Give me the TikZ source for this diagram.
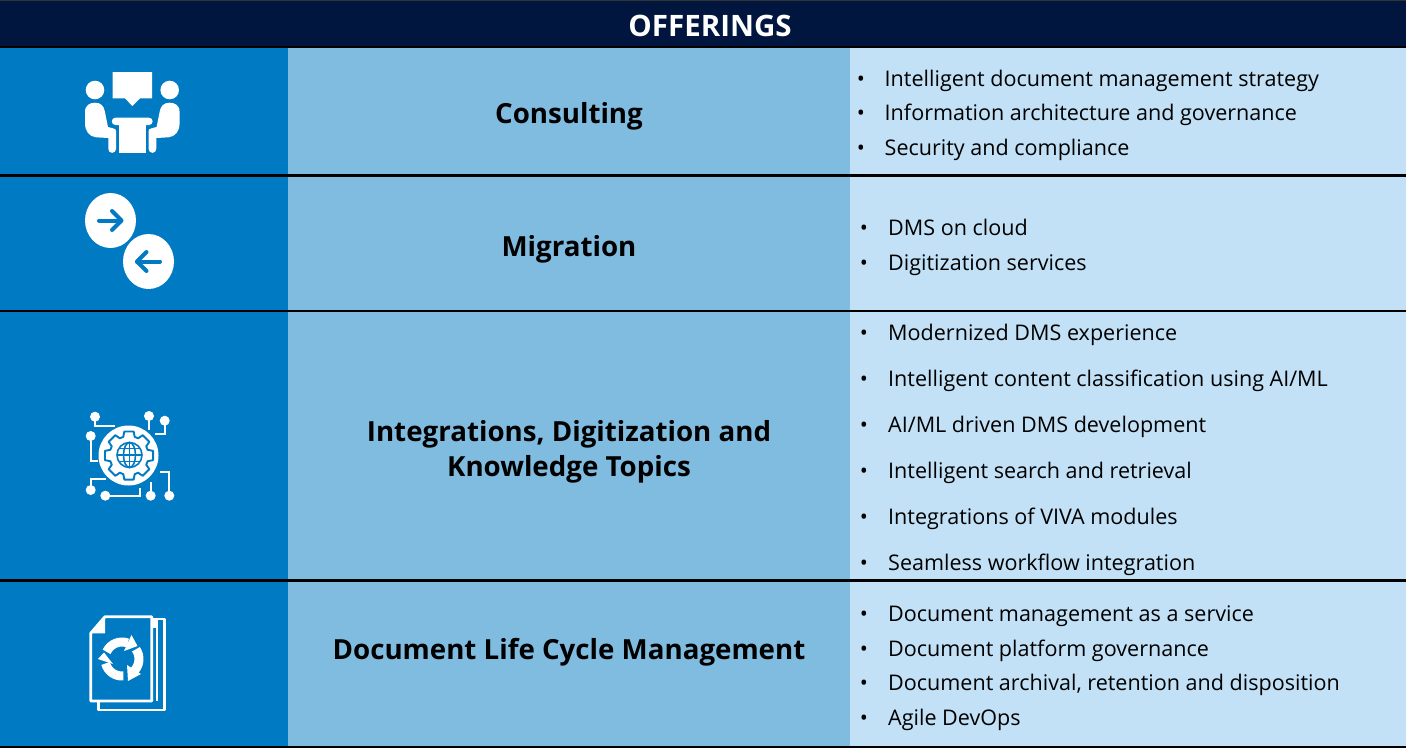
\documentclass[tikz,border=0pt]{standalone}
\usepackage{fontspec}
\setmainfont{Open Sans}
\definecolor{navy}{HTML}{00163F}
\definecolor{cola}{HTML}{007AC3}
\definecolor{colb}{HTML}{7FBCE0}
\definecolor{colc}{HTML}{C2E1F6}
\tikzset{x=1pt,y=-1pt,
  rule/.style={line width=2.5pt,black},
  head/.style={font=\fontsize{29.5}{30}\selectfont\bfseries,white},
  title/.style={font=\fontsize{27.7}{35}\selectfont\bfseries,black,align=center},
  item/.style={font=\fontsize{21.55}{26}\selectfont,black,anchor=base west,inner sep=0},
  dot/.style={font=\fontsize{21.5}{26}\selectfont,black,anchor=base,inner sep=0},
  icon/.style={fill=white,draw=none},
  iline/.style={draw=white,line width=2pt,fill=none},
  bline/.style={draw=cola,line width=4pt,line cap=round,line join=round,fill=none},
  gline/.style={draw=cola,line width=1.6pt,fill=none}}
\begin{document}
\begin{tikzpicture}
\useasboundingbox (0,0) rectangle (1406,748);
\fill[white] (0,0) rectangle (1406,748);
\fill[navy] (0,1) rectangle (1406,47);
\foreach \a/\b in {47/176,176/311,311/580,580/747}{
  \fill[cola] (0,\a) rectangle (288,\b);
  \fill[colb] (288,\a) rectangle (850,\b);
  \fill[colc] (850,\a) rectangle (1406,\b);
}
\foreach \y in {47,175.5,311,580.7,747}{\draw[rule] (0,\y)--(1406,\y);}
\draw[line width=1.5pt,black!80] (0,0.7)--(1406,0.7);
\node[head] (h) at (710,26) {OFFERINGS};
\node[title] (t1) at (569,116) {Consulting};
\node[title] (t2) at (569,249) {Migration};
\node[title] (t3) at (569,451.5) {Integrations, Digitization and\\Knowledge Topics};
\node[title] (t4) at (569,652) {Document Life Cycle Management};
\foreach \n/\y/\t in {a/86/{Intelligent document management strategy},b/120/{Information architecture and governance},c/155/{Security and compliance}}{
  \node[dot] (d\n) at (861,\y) {•};
  \node[item] (i\n) at (884.5,\y) {\t};
}
\foreach \n/\y/\t in {d/235/{DMS on cloud},e/270/{Digitization services},
 f/340/{Modernized DMS experience},g/386/{Intelligent content classification using AI/ML},h/432/{AI/ML driven DMS development},i/478/{Intelligent search and retrieval},j/524/{Integrations of VIVA modules},k/570/{Seamless workflow integration},
 l/621/{Document management as a service},m/656/{Document platform governance},n/690/{Document archival, retention and disposition},o/725/{Agile DevOps}}{
  \node[dot] (d\n) at (864,\y) {•};
  \node[item] (i\n) at (888,\y) {\t};
}
% icon 1
\fill[icon] (112.7,72) -- (152,72) -- (152,98.3) -- (140,98.3) -- (132.3,106) -- (125,98.3) -- (112.7,98.3) -- cycle;
\fill[icon] (95,90) circle (9.3);
\fill[icon] (169.7,90) circle (9.3);
\fill[icon] (115.4,117.7) -- (149,117.7) arc (-90:90:3.65) -- (115.4,125) arc (90:270:3.65) -- cycle;
\fill[icon] (119.3,125) rectangle (145.7,152.7);
\foreach \s/\o in {1/0,-1/264.6}{
\begin{scope}[xshift=\o pt,xscale=\s]
\fill[icon] (85,112) .. controls (85,105) and (90,102.7) .. (95,102.7) .. controls (101,102.7) and (104,106) .. (105,112) -- (108,127) -- (113,128.3) .. controls (115,128.6) and (116,129.5) .. (116,131) -- (116,149) arc (0:180:3.85) -- (108.3,138) -- (96,137.3) .. controls (89,136.5) and (85,131) .. (85,123) -- cycle;
\end{scope}}
% icon 2
\fill[icon] (110.5,220.5) ellipse (25.5 and 27.5);
\fill[icon] (148.5,261.5) ellipse (25.5 and 27.5);
\draw[bline] (99,220.5) -- (121,220.5);
\draw[bline] (112,211) -- (121.5,220.5) -- (112,230);
\draw[bline] (160,261.5) -- (137,261.5);
\draw[bline] (146.5,252) -- (137,261.5) -- (146.5,271);
% icon 3
\fill[icon] (128.5,455.5) circle (30);
\draw[draw=cola,line width=1.9pt,line join=round,fill=none]
 ({129+19.5*cos(-17)},{455.5+19.5*sin(-17)})
 \foreach \k in {0,...,7}{
  -- ({129+19.5*cos(\k*45-17)},{455.5+19.5*sin(\k*45-17)}) -- ({129+24.5*cos(\k*45-11)},{455.5+24.5*sin(\k*45-11)}) -- ({129+24.5*cos(\k*45+11)},{455.5+24.5*sin(\k*45+11)}) -- ({129+19.5*cos(\k*45+17)},{455.5+19.5*sin(\k*45+17)}) } -- cycle;
\draw[gline] (129.5,455) circle (12.5);
\draw[gline] (129.5,455) ellipse (6 and 12.5);
\draw[gline] (129.5,442.5)--(129.5,467.5) (117,455)--(142,455) (119,448.5)--(140,448.5) (119,461.5)--(140,461.5);
\fill[icon] (95,416.7) circle (5);
\fill[icon] (149,416) circle (5);
\fill[icon] (164.7,420.7) circle (5);
\fill[icon] (90.7,436) circle (5);
\fill[icon] (90.7,490) circle (5);
\fill[icon] (105.3,495.7) circle (5);
\fill[icon] (150.7,495.7) circle (5);
\fill[icon] (169.3,495.7) circle (5);
\draw[iline] (95,421) -- (95,425.7) -- (115,425.7);
\draw[iline] (149,421) -- (149,430);
\draw[iline] (164.7,425) -- (164.7,434.3) -- (155,434.3);
\draw[iline] (90.7,441) -- (90.7,460.7) -- (98.3,460.7);
\draw[iline] (90.7,486) -- (90.7,479) -- (106,479);
\draw[iline] (110,495.7) -- (140,495.7) -- (140,488);
\draw[iline] (150.7,491) -- (150.7,482);
\draw[iline] (169.3,491) -- (169.3,471.7) -- (160,471.7);
% icon 4
\draw[draw=white,line width=2.8pt,line join=round,fill=none] (151.7,619) -- (164.5,619) -- (164.5,710) -- (98.3,710) -- (98.3,701);
\draw[draw=white,line width=2pt] (156.5,619) -- (156.5,701);
\fill[icon] (151.7,619) rectangle (156.5,628);
\draw[draw=white,line width=2.8pt,line join=round,fill=none] (90.7,633.3) -- (105,616.7) -- (151.7,616.7) -- (151.7,701) -- (90.7,701) -- cycle;
\fill[icon] (90.7,633.3) -- (105,616.7) -- (105,633.3) -- cycle;
\coordinate (rc) at (122,659);
\draw[white,line width=9pt] (rc) ++(205:17) arc (205:290:17);
\draw[white,line width=9pt] (rc) ++(325:17) arc (325:410:17);
\draw[white,line width=9pt] (rc) ++(85:17) arc (85:165:17);
\fill[icon] (131.5,635) -- (137.5,646) -- (124,651) -- cycle;
\fill[icon] (128,681) -- (127,665) -- (141,674) -- cycle;
\fill[icon] (98,659) -- (104,652.5) -- (113,664) -- cycle;
\end{tikzpicture}
\end{document}
